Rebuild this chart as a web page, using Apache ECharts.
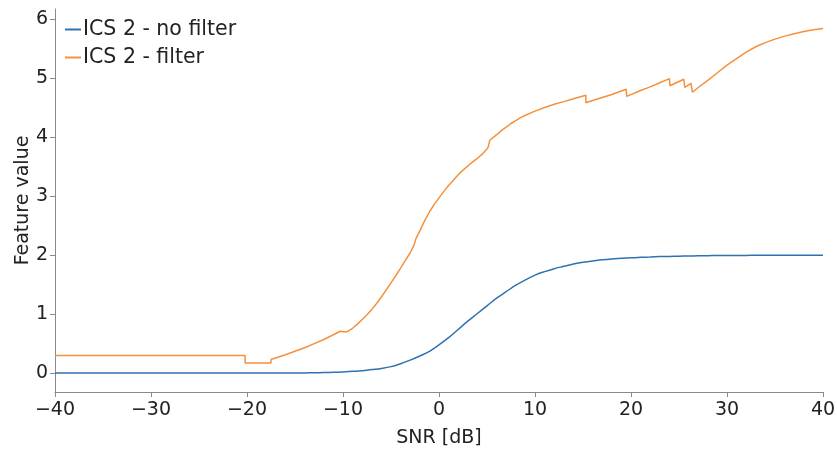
<!DOCTYPE html>
<html>
<head>
<meta charset="utf-8">
<script src="https://cdn.jsdelivr.net/npm/echarts@6/dist/echarts.min.js"></script>
<style>
  html, body { margin: 0; padding: 0; background: #ffffff; }
  #chart { width: 837px; height: 450px; }
</style>
</head>
<body>
<div id="chart"></div>
<script>
// SNR sweep (dB) for the unfiltered feature
const snrNoFilter = [
  -40, -39, -38, -37, -36, -35, -34, -33, -32, -31, -30, -29, -28, -27, -26, -25, -24, -23, -22, -21,
  -20, -19, -18, -17, -16, -15, -14, -13, -12, -11, -10, -9, -8, -7, -6, -5, -4, -3, -2, -1,
  0, 1, 2, 3, 4, 5, 6, 7, 8, 9, 10, 11, 12, 13, 14, 15, 16, 17, 18, 19,
  20, 21, 22, 23, 24, 25, 26, 27, 28, 29, 30, 31, 32, 33, 34, 35, 36, 37, 38, 39, 40
];
const valuesNoFilter = [
  0, 0, 0, 0, 0, 0, 0, 0, 0, 0, 0, 0, 0, 0, 0, 0, 0, 0, 0, 0,
  0, 0, 0, 0.001, 0.002, 0.003, 0.004, 0.006, 0.01, 0.015, 0.02, 0.03, 0.04, 0.06, 0.08, 0.11, 0.16, 0.22, 0.29, 0.37,
  0.48, 0.60, 0.74, 0.88, 1.01, 1.14, 1.27, 1.38, 1.49, 1.58, 1.66, 1.72, 1.77, 1.81, 1.85, 1.88, 1.90, 1.92, 1.935, 1.945,
  1.955, 1.962, 1.968, 1.974, 1.978, 1.982, 1.985, 1.988, 1.990, 1.992, 1.993, 1.994, 1.995, 1.996, 1.997, 1.997, 1.998, 1.998, 1.999, 1.999, 1.999
];

// SNR sweep (dB) for the filtered feature; repeated SNR values mark the steps
const snrFilter = [
  -40, -20.2, -20.2, -17.5, -17.5, -16, -15, -14, -13, -12, -11, -10.3, -10, -9.6, -9, -8.5, -8, -7.5, -7, -6.5,
  -6, -5.5, -5, -4.5, -4, -3.5, -3, -2.6, -2.4, -2, -1.5, -1, -0.5, 0, 0.5, 1, 1.5, 2, 2.5, 3,
  3.5, 4, 4.5, 5.1, 5.3, 5.7, 6, 6.5, 7, 7.5, 8, 8.5, 9, 10, 11, 12, 13, 14, 15.3, 15.3,
  16, 17, 18, 19.5, 19.55, 21, 22, 23, 24.0, 24.06, 25.5, 25.6, 26.25, 26.4, 27, 28, 29, 30, 31, 32,
  33, 34, 35, 36, 37, 38, 39, 40
];
const valuesFilter = [
  0.30, 0.30, 0.17, 0.17, 0.23, 0.31, 0.37, 0.43, 0.50, 0.57, 0.65, 0.71, 0.70, 0.70, 0.76, 0.83, 0.91, 0.99, 1.08, 1.18,
  1.29, 1.41, 1.53, 1.65, 1.78, 1.91, 2.04, 2.17, 2.28, 2.41, 2.58, 2.73, 2.86, 2.97, 3.08, 3.18, 3.27, 3.36, 3.44, 3.51,
  3.58, 3.64, 3.71, 3.82, 3.95, 4.00, 4.04, 4.11, 4.17, 4.23, 4.28, 4.33, 4.37, 4.44, 4.50, 4.555, 4.60, 4.65, 4.71, 4.58,
  4.62, 4.67, 4.72, 4.81, 4.69, 4.79, 4.85, 4.92, 4.99, 4.87, 4.98, 4.84, 4.91, 4.76, 4.84, 4.96, 5.09, 5.22, 5.33, 5.44,
  5.53, 5.60, 5.66, 5.71, 5.75, 5.79, 5.82, 5.84
];

const xTicks = [-40, -30, -20, -10, 0, 10, 20, 30, 40];
const yTicks = [0, 1, 2, 3, 4, 5, 6];

const seriesNames = ['ICS 2 - no filter', 'ICS 2 - filter'];
const seriesColors = ['#2f72b0', '#f5903c'];

const pairs = (xs, ys) => xs.map((x, i) => [x, ys[i]]);
const minus = v => String(v).replace('-', '\u2212');

const FONT = 'DejaVu Sans, Verdana, sans-serif';
const axisGray = '#8a8a8a';
const textColor = '#222222';

const chart = echarts.init(document.getElementById('chart'), null, { renderer: 'canvas' });

chart.setOption({
  animation: false,
  backgroundColor: '#ffffff',
  textStyle: { fontFamily: FONT },
  grid: { left: 55, right: 14, top: 9, bottom: 58, containLabel: false, outerBoundsMode: 'none' },
  legend: {
    orient: 'vertical',
    left: 60,
    top: 14,
    itemGap: 7,
    itemWidth: 16,
    itemHeight: 2,
    icon: 'rect',
    textStyle: { fontFamily: FONT, fontSize: 20.5, color: textColor, padding: [0, 0, 0, -3] },
    data: seriesNames
  },
  xAxis: {
    type: 'value',
    min: xTicks[0],
    max: xTicks[xTicks.length - 1],
    interval: 10,
    name: 'SNR [dB]',
    nameLocation: 'middle',
    nameGap: 37,
    nameMoveOverlap: false,
    nameTextStyle: { fontFamily: FONT, fontSize: 19, color: textColor },
    axisLine: { show: true, onZero: false, lineStyle: { color: axisGray, width: 1 } },
    axisTick: { show: true, inside: false, length: 5, lineStyle: { color: axisGray } },
    axisLabel: {
      fontFamily: FONT, fontSize: 19, color: textColor, margin: 9,
      formatter: v => minus(v)
    },
    splitLine: { show: false }
  },
  yAxis: {
    type: 'value',
    min: -0.32,
    max: 6.17,
    name: 'Feature value',
    nameLocation: 'middle',
    nameGap: 22,
    nameMoveOverlap: false,
    nameRotate: 90,
    nameTextStyle: { fontFamily: FONT, fontSize: 19, color: textColor },
    axisLine: { show: true, onZero: false, lineStyle: { color: axisGray, width: 1 } },
    axisTick: { show: true, inside: false, length: 5, lineStyle: { color: axisGray }, customValues: yTicks },
    axisLabel: {
      fontFamily: FONT, fontSize: 19, color: textColor, margin: 7,
      customValues: yTicks,
      formatter: v => minus(v)
    },
    splitLine: { show: false }
  },
  series: [
    {
      name: seriesNames[0],
      type: 'line',
      data: pairs(snrNoFilter, valuesNoFilter),
      showSymbol: false,
      smooth: 0.4,
      color: seriesColors[0],
      lineStyle: { width: 1.5, color: seriesColors[0] }
    },
    {
      name: seriesNames[1],
      type: 'line',
      data: pairs(snrFilter, valuesFilter),
      showSymbol: false,
      smooth: false,
      color: seriesColors[1],
      lineStyle: { width: 1.5, color: seriesColors[1] }
    }
  ]
});
</script>
</body>
</html>
